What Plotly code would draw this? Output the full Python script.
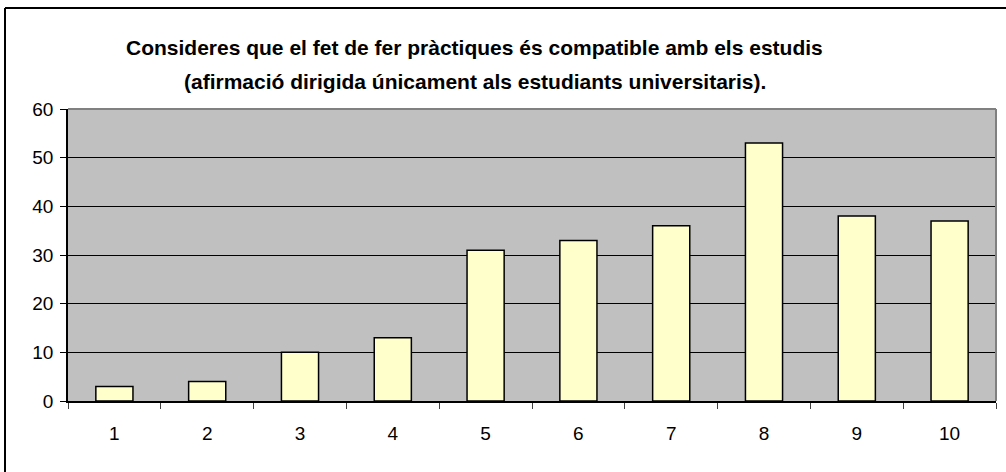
import plotly.graph_objects as go

categories = ["1", "2", "3", "4", "5", "6", "7", "8", "9", "10"]
values = [3, 4, 10, 13, 31, 33, 36, 53, 38, 37]
y_ticks = [0, 10, 20, 30, 40, 50, 60]
title_lines = [
    "Consideres que el fet de fer pràctiques és compatible amb els estudis",
    "(afirmació dirigida únicament als estudiants universitaris).",
]

W, H = 1006, 472
L, R, T, B = 68, 10, 109, 71
pw, ph = W - L - R, H - T - B

def px_x(x):
    return (x - L) / pw

def px_y(y):
    return (H - B - y) / ph

fig = go.Figure(
    go.Bar(
        x=categories,
        y=values,
        width=0.4,
        marker=dict(color="#FFFFCC", line=dict(color="black", width=1.5)),
    )
)

font = "Liberation Sans, Arial, sans-serif"
annotations = [
    dict(text="<b>%s</b>" % title_lines[0], x=px_x(474), y=px_y(47), xref="paper", yref="paper",
         showarrow=False, xanchor="center", yanchor="middle", font=dict(family=font, size=21, color="black")),
    dict(text="<b>%s</b>" % title_lines[1], x=px_x(475), y=px_y(81), xref="paper", yref="paper",
         showarrow=False, xanchor="center", yanchor="middle", font=dict(family=font, size=21, color="black")),
]

shapes = [
    dict(type="line", xref="paper", yref="paper", x0=px_x(5), x1=px_x(5), y0=px_y(8), y1=px_y(480),
         line=dict(color="black", width=2)),
    dict(type="line", xref="paper", yref="paper", x0=px_x(5), x1=px_x(1010), y0=px_y(8), y1=px_y(8),
         line=dict(color="black", width=2)),
    dict(type="line", xref="paper", yref="paper", x0=0, x1=1, y0=1, y1=1,
         line=dict(color="#808080", width=2), layer="above"),
    dict(type="line", xref="paper", yref="paper", x0=1, x1=1, y0=0, y1=1,
         line=dict(color="#808080", width=2), layer="above"),
]

fig.update_layout(
    width=W, height=H,
    margin=dict(l=L, r=R, t=T, b=B, pad=0),
    paper_bgcolor="white",
    plot_bgcolor="#C0C0C0",
    showlegend=False,
    annotations=annotations,
    shapes=shapes,
    font=dict(family=font, size=19, color="black"),
)
fig.update_xaxes(
    type="category",
    tickson="boundaries",
    ticks="outside", ticklen=6, tickcolor="#404040", tickwidth=1,
    showline=True, linecolor="black", linewidth=1.5,
    showgrid=False,
    tickfont=dict(family=font, size=19, color="black"),
    ticklabelstandoff=14,
)
fig.update_yaxes(
    range=[0, 60],
    tickvals=y_ticks,
    ticks="outside", ticklen=6, tickcolor="black", tickwidth=1,
    showline=True, linecolor="black", linewidth=1.5,
    showgrid=True, gridcolor="black", gridwidth=1,
    zeroline=False,
    tickfont=dict(family=font, size=19, color="black"),
    ticklabelstandoff=3,
)

fig.write_html("out.html", config={"displayModeBar": False})
with open("out.html", "r", encoding="utf-8") as f:
    html = f.read()
html = html.replace("<body>", '<body style="margin:0;padding:0;overflow:hidden">', 1)
with open("out.html", "w", encoding="utf-8") as f:
    f.write(html)
